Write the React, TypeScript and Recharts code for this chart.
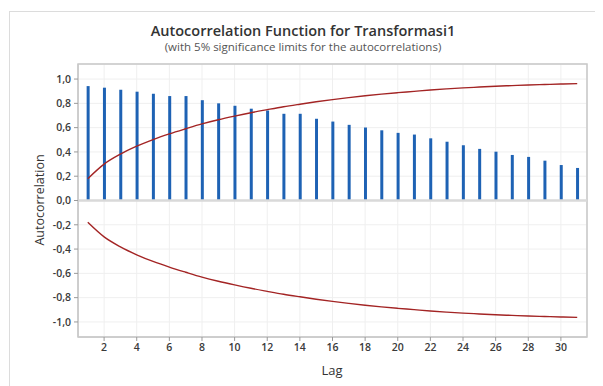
import {
  Bar,
  CartesianGrid,
  ComposedChart,
  Line,
  ReferenceArea,
  ReferenceLine,
  XAxis,
  YAxis,
} from "recharts";

const lags = [
  1, 2, 3, 4, 5, 6, 7, 8, 9, 10, 11, 12, 13, 14, 15, 16, 17, 18, 19, 20, 21, 22, 23, 24, 25, 26, 27, 28,
  29, 30, 31,
];

const acfValues = [
  0.942, 0.929, 0.912, 0.896, 0.879, 0.86, 0.86, 0.826, 0.8, 0.78, 0.756, 0.741, 0.714, 0.714, 0.673,
  0.65, 0.623, 0.601, 0.578, 0.557, 0.543, 0.512, 0.484, 0.455, 0.425, 0.402, 0.375, 0.359, 0.328,
  0.292, 0.268,
];

const upperLimits = [
  0.18, 0.3, 0.382, 0.447, 0.502, 0.549, 0.591, 0.631, 0.665, 0.695, 0.723, 0.748, 0.772, 0.793, 0.813,
  0.831, 0.847, 0.862, 0.876, 0.888, 0.899, 0.91, 0.919, 0.927, 0.934, 0.941, 0.946, 0.951, 0.955,
  0.959, 0.962,
];

const xTicks = [2, 4, 6, 8, 10, 12, 14, 16, 18, 20, 22, 24, 26, 28, 30];
const yTicks = [-1, -0.8, -0.6, -0.4, -0.2, 0, 0.2, 0.4, 0.6, 0.8, 1];

const data = lags.map((lag, i) => ({
  lag,
  acf: acfValues[i],
  upper: upperLimits[i],
  lower: -upperLimits[i],
}));

const xDomain: [number, number] = [0.4, 31.6];
const yDomain: [number, number] = [-1.124, 1.124];

const font = "'Open Sans', 'Noto Sans', sans-serif";
const tickStyle = { fontSize: 10.5, fontWeight: 600, fill: "#3a3a3a", fontFamily: font };

const fmt = (v: number) => v.toFixed(1).replace(".", ",");

export default function App() {
  return (
    <div style={{ position: "relative", width: 595, height: 378, fontFamily: font }}>
      <div
        style={{
          position: "absolute",
          left: 1,
          top: 3,
          right: 0,
          bottom: -10,
          borderLeft: "1px solid #dcdcdc",
          borderTop: "1px solid #dcdcdc",
        }}
      />
      <div
        style={{
          position: "absolute",
          left: 0,
          width: 590,
          top: 14,
          textAlign: "center",
          fontSize: 14.5,
          fontWeight: 600,
          color: "#333",
          lineHeight: "18px",
        }}
      >
        Autocorrelation Function for Transformasi1
      </div>
      <div
        style={{
          position: "absolute",
          left: 0,
          width: 590,
          top: 32,
          textAlign: "center",
          fontSize: 11.5,
          color: "#555",
          lineHeight: "14px",
        }}
      >
        (with 5% significance limits for the autocorrelations)
      </div>
      <div
        style={{
          position: "absolute",
          left: 31,
          top: 192,
          transform: "translate(-50%, -50%) rotate(-90deg)",
          fontSize: 12.5,
          fontWeight: 500,
          color: "#333",
          whiteSpace: "nowrap",
        }}
      >
        Autocorrelation
      </div>
      <div
        style={{
          position: "absolute",
          left: 324,
          top: 362,
          transform: "translate(-50%, -50%)",
          fontSize: 13,
          fontWeight: 500,
          color: "#333",
        }}
      >
        Lag
      </div>
      <ComposedChart
        width={595}
        height={378}
        data={data}
        margin={{ top: 56, right: 16, bottom: 19, left: 0 }}
        style={{ position: "absolute", left: 0, top: 0 }}
      >
        <CartesianGrid stroke="#efefef" strokeWidth={1} />
        <XAxis
          dataKey="lag"
          type="number"
          domain={xDomain}
          ticks={xTicks}
          allowDataOverflow
          height={30}
          tick={tickStyle}
          tickSize={4}
          tickMargin={3}
          axisLine={{ stroke: "#c8c8c8" }}
          tickLine={{ stroke: "#9a9a9a" }}
        />
        <YAxis
          type="number"
          domain={yDomain}
          ticks={yTicks}
          allowDataOverflow
          width={70}
          tick={tickStyle}
          tickFormatter={fmt}
          tickSize={4}
          tickMargin={3}
          axisLine={{ stroke: "#c8c8c8" }}
          tickLine={{ stroke: "#9a9a9a" }}
        />
        <ReferenceLine y={0} stroke="#d9d9d9" strokeWidth={2.5} />
        <ReferenceArea
          x1={xDomain[0]}
          x2={xDomain[1]}
          y1={yDomain[0]}
          y2={yDomain[1]}
          fill="none"
          stroke="#c8c8c8"
          strokeWidth={1.5}
          ifOverflow="visible"
        />
        <Bar dataKey="acf" fill="#1e62b4" barSize={3} isAnimationActive={false} />
        <Line
          dataKey="upper"
          type="monotone"
          stroke="#a32424"
          strokeWidth={1.4}
          dot={false}
          isAnimationActive={false}
        />
        <Line
          dataKey="lower"
          type="monotone"
          stroke="#a32424"
          strokeWidth={1.4}
          dot={false}
          isAnimationActive={false}
        />
      </ComposedChart>
    </div>
  );
}
